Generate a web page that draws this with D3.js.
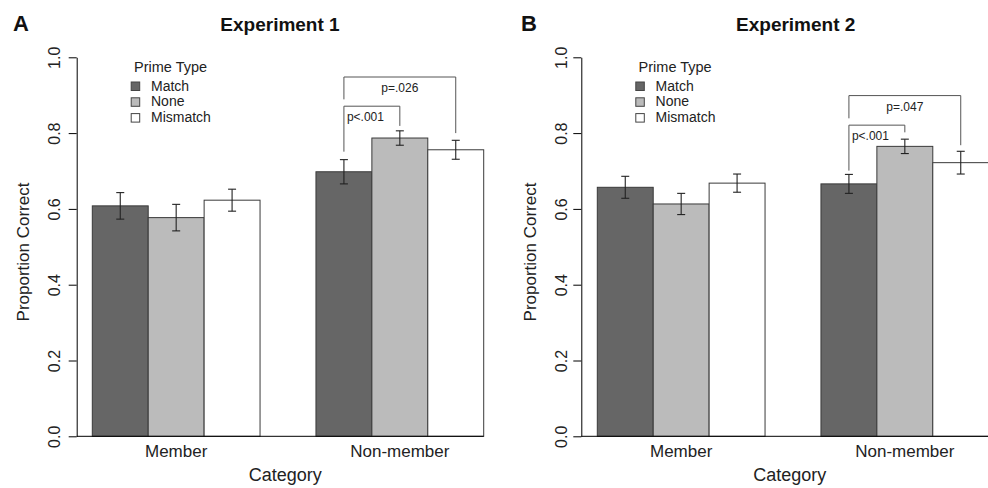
<!DOCTYPE html>
<html>
<head>
<meta charset="utf-8">
<script src="https://cdn.jsdelivr.net/npm/d3@7"></script>
<style>
  html, body { margin: 0; padding: 0; background: #fff; }
  svg { display: block; font-family: "Liberation Sans", Arial, Helvetica, sans-serif; }
</style>
</head>
<body>
<svg id="chart" width="988" height="488"></svg>
<script>
// ---- data ----
const categories = ["Member", "Non-member"];
const primeTypes = ["Match", "None", "Mismatch"];
const primeColors = ["#666666", "#bbbbbb", "#ffffff"];
const yTicks = [0, 0.2, 0.4, 0.6, 0.8, 1.0];

// Experiment 1 (rows: category, cols: prime type)
const exp1Mean = [[0.608, 0.577, 0.623], [0.698, 0.787, 0.756]];
const exp1SE   = [[0.035, 0.035, 0.029], [0.032, 0.019, 0.025]];
// Experiment 2
const exp2Mean = [[0.657, 0.613, 0.668], [0.666, 0.765, 0.722]];
const exp2SE   = [[0.029, 0.028, 0.024], [0.025, 0.019, 0.030]];

// significance brackets within Non-member group: bar indices, top value, leg ends
const exp1Brackets = [
  { from: 0, to: 1, top: 0.871, leftEnd: 0.751, rightEnd: 0.819, label: "p<.001" },
  { from: 0, to: 2, top: 0.948, leftEnd: 0.889, rightEnd: 0.800, label: "p=.026" }
];
const exp2Brackets = [
  { from: 0, to: 1, top: 0.821, leftEnd: 0.701, rightEnd: 0.802, label: "p<.001" },
  { from: 0, to: 2, top: 0.899, leftEnd: 0.839, rightEnd: 0.768, label: "p=.047" }
];

const svg = d3.select("#chart");
const y = d3.scaleLinear().domain([0, 1]).range([436.3, 57.3]);

function drawPanel(p) {
  const g = svg.append("g");
  const x0 = d3.scaleBand().domain(categories).range(p.barRange)
    .paddingInner(0.25).paddingOuter(0);
  const x1 = d3.scaleBand().domain(d3.range(primeTypes.length))
    .range([0, x0.bandwidth()]).padding(0);

  // bars
  categories.forEach((cat, ci) => {
    const gg = g.append("g").attr("transform", `translate(${x0(cat)},0)`);
    gg.selectAll("rect").data(p.mean[ci]).join("rect")
      .attr("x", (d, i) => x1(i))
      .attr("y", d => y(d))
      .attr("width", x1.bandwidth())
      .attr("height", d => y(0) - y(d))
      .attr("fill", (d, i) => primeColors[i])
      .attr("stroke", "#3a3a3a")
      .attr("stroke-width", 1);
    // error bars
    p.mean[ci].forEach((m, i) => {
      const cx = x1(i) + x1.bandwidth() / 2;
      const se = p.se[ci][i];
      const eg = gg.append("g").attr("stroke", "#222").attr("stroke-width", 1.1);
      eg.append("line").attr("x1", cx).attr("x2", cx).attr("y1", y(m - se)).attr("y2", y(m + se));
      eg.append("line").attr("x1", cx - 4).attr("x2", cx + 4).attr("y1", y(m - se)).attr("y2", y(m - se));
      eg.append("line").attr("x1", cx - 4).attr("x2", cx + 4).attr("y1", y(m + se)).attr("y2", y(m + se));
    });
  });

  // baseline
  g.append("line")
    .attr("x1", p.axisX).attr("x2", p.barRange[1])
    .attr("y1", y(0)).attr("y2", y(0))
    .attr("stroke", "#000").attr("stroke-width", 1);

  // brackets
  const grp = categories[1];
  p.brackets.forEach(b => {
    const xl = x0(grp) + x1(b.from) + x1.bandwidth() / 2;
    const xr = x0(grp) + x1(b.to) + x1.bandwidth() / 2;
    g.append("path")
      .attr("d", `M${xl},${y(b.leftEnd)}V${y(b.top)}H${xr}V${y(b.rightEnd)}`)
      .attr("fill", "none").attr("stroke", "#555").attr("stroke-width", 1);
    const adjacent = (b.to - b.from) === 1;
    g.append("text")
      .attr("x", adjacent ? xl + 3 : (xl + xr) / 2)
      .attr("y", y(b.top) + 15)
      .attr("text-anchor", adjacent ? "start" : "middle")
      .attr("font-size", 12).attr("fill", "#222")
      .text(b.label);
  });

  // y axis
  const ax = g.append("g").attr("transform", `translate(${p.axisX},0)`)
    .call(d3.axisLeft(y).tickValues(yTicks).tickFormat(d3.format(".1f"))
      .tickSize(8).tickSizeOuter(0));
  ax.select(".domain").attr("stroke", "#000");
  ax.selectAll(".tick line").attr("stroke", "#000");
  ax.selectAll(".tick text")
    .attr("x", null).attr("dy", "0.35em")
    .attr("transform", `translate(${-p.tickLabelOff},0) rotate(-90)`)
    .attr("text-anchor", "middle")
    .attr("font-size", 16).attr("fill", "#222")
    .attr("font-family", "Liberation Sans, Arial, sans-serif");

  // category labels
  categories.forEach(cat => {
    g.append("text")
      .attr("x", x0(cat) + x0.bandwidth() / 2).attr("y", 457)
      .attr("text-anchor", "middle").attr("font-size", 17).attr("fill", "#222")
      .text(cat);
  });

  // axis titles
  g.append("text").attr("x", p.xTitleX).attr("y", 481)
    .attr("text-anchor", "middle").attr("font-size", 18).attr("fill", "#222")
    .text("Category");
  g.append("text")
    .attr("transform", `translate(${p.yTitleX},252) rotate(-90)`)
    .attr("dy", "0.35em")
    .attr("text-anchor", "middle").attr("font-size", 17).attr("fill", "#222")
    .text("Proportion Correct");

  // main title and panel letter
  g.append("text").attr("x", p.titleX).attr("y", 31)
    .attr("text-anchor", "middle").attr("font-size", 19).attr("font-weight", "bold")
    .attr("fill", "#111").text(p.title);
  g.append("text").attr("x", p.letterX).attr("y", 31)
    .attr("font-size", 22).attr("font-weight", "bold").attr("fill", "#111")
    .text(p.letter);

  // legend
  const lg = g.append("g").attr("transform", `translate(${p.axisX},0)`);
  lg.append("text").attr("x", 57.3).attr("y", 72)
    .attr("font-size", 14.5).attr("fill", "#222").text("Prime Type");
  primeTypes.forEach((t, i) => {
    const base = 90.5 + i * 15.8;
    lg.append("rect").attr("x", 54.5).attr("y", base - 8.5)
      .attr("width", 8.5).attr("height", 8.5)
      .attr("fill", primeColors[i]).attr("stroke", "#444").attr("stroke-width", 1);
    lg.append("text").attr("x", 74.3).attr("y", base)
      .attr("font-size", 14).attr("fill", "#222").text(t);
  });
}

drawPanel({
  mean: exp1Mean, se: exp1SE, brackets: exp1Brackets,
  axisX: 76.7, barRange: [92.3, 483.7], tickLabelOff: 22,
  xTitleX: 285.3, yTitleX: 23, titleX: 280, letterX: 13, title: "Experiment 1", letter: "A"
});
drawPanel({
  mean: exp2Mean, se: exp2SE, brackets: exp2Brackets,
  axisX: 581.3, barRange: [597.3, 988.7], tickLabelOff: 20,
  xTitleX: 789.8, yTitleX: 529.8, titleX: 795.7, letterX: 521, title: "Experiment 2", letter: "B"
});
</script>
</body>
</html>
